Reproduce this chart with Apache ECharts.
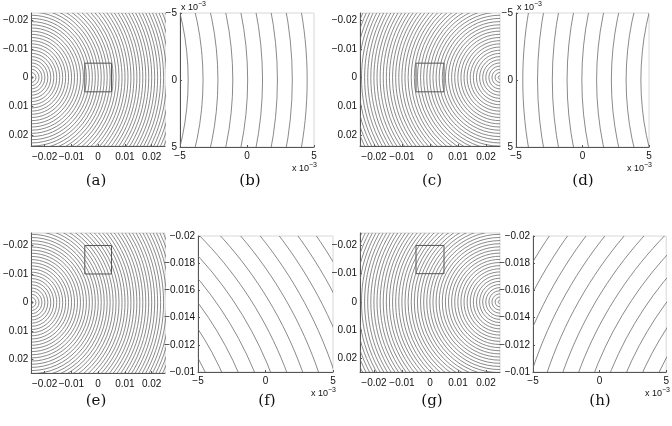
<!DOCTYPE html>
<html>
<head>
<meta charset="UTF-8">
<title>contours</title>
<script type="text/javascript" src="https://cdn.jsdelivr.net/npm/echarts@6/dist/echarts.min.js"></script>
<style>
    html, body { margin: 0; padding: 0; background: #fff; }
</style>
</head>
<body>
    <div id="main" style="width: 672px; height: 426px;"></div>
    <script type="text/javascript">
        // contour radii (same levels in every panel)
        var radii = [0.00063, 0.00174, 0.00285, 0.00396, 0.00507, 0.00618, 0.00729, 0.00840,
                     0.00951, 0.01062, 0.01173, 0.01284, 0.01395, 0.01506, 0.01617, 0.01728,
                     0.01839, 0.01950, 0.02061, 0.02172, 0.02283, 0.02394, 0.02505, 0.02616,
                     0.02727, 0.02838, 0.02949, 0.03060, 0.03171, 0.03282, 0.03393, 0.03504,
                     0.03615, 0.03726, 0.03837, 0.03948, 0.04059, 0.04170, 0.04281, 0.04392,
                     0.04503, 0.04614, 0.04725, 0.04836, 0.04947, 0.05058, 0.05169, 0.05280,
                     0.05391, 0.05502, 0.05613, 0.05724];
        // centre of the circles: left source (a,b,e,f), right source (c,d,g,h)
        var sourceLeft = [-0.025, 0];
        var sourceRight = [0.025, 0];
        // tick labels
        var bigTicks = [-0.02, -0.01, 0, 0.01, 0.02];
        var zoomTicks = [-0.005, 0, 0.005];
        var zoomYTicksLow = [-0.02, -0.018, -0.016, -0.014, -0.012, -0.01];
        // zoom windows [x0, x1, y0, y1]
        var windowCentre = [-0.005, 0.005, -0.005, 0.005];
        var windowUpper = [-0.005, 0.005, -0.02, -0.01];
        var captions = ['(a)', '(b)', '(c)', '(d)', '(e)', '(f)', '(g)', '(h)'];

        var panels = [
            { grid: {left: 25, top: 13, width: 140, height: 133}, x: [-0.025, 0.025], y: [-0.0225, 0.0239], src: sourceLeft, kind: 'big', box: windowCentre },
            { grid: {left: 180, top: 13, width: 134, height: 134}, x: [-0.005, 0.005], y: [-0.005, 0.005], src: sourceLeft, kind: 'zoom' },
            { grid: {left: 360, top: 13, width: 140, height: 133}, x: [-0.025, 0.025], y: [-0.0225, 0.0239], src: sourceRight, kind: 'big', box: windowCentre },
            { grid: {left: 516, top: 13, width: 133, height: 134}, x: [-0.005, 0.005], y: [-0.005, 0.005], src: sourceRight, kind: 'zoom' },
            { grid: {left: 25, top: 233, width: 140, height: 140}, x: [-0.025, 0.025], y: [-0.0244, 0.0248], src: sourceLeft, kind: 'big', box: windowUpper },
            { grid: {left: 198, top: 236, width: 135, height: 136}, x: [-0.005, 0.005], y: [-0.02, -0.01], src: sourceLeft, kind: 'low' },
            { grid: {left: 360, top: 233, width: 140, height: 139}, x: [-0.025, 0.025], y: [-0.0244, 0.0248], src: sourceRight, kind: 'big', box: windowUpper },
            { grid: {left: 533, top: 236, width: 134, height: 136}, x: [-0.005, 0.005], y: [-0.02, -0.01], src: sourceRight, kind: 'low' }
        ];
        var captionPos = [[96, 181], [250, 181], [432, 181], [583, 181], [96, 401], [267, 401], [432, 401], [600, 401]];

        function fmt(v) {
            var s = String(+v.toFixed(4));
            return s.replace('-', '\u2212');
        }
        function fmtMilli(v) {
            return fmt(Math.round(v * 1000));
        }

        var labelFont = { fontFamily: 'Liberation Sans', fontSize: 10, color: '#111' };

        function renderRing(params, api) {
            var c = api.coord([api.value(0), api.value(1)]);
            var s = api.size([api.value(2), api.value(2)]);
            return {
                type: 'ellipse',
                shape: { cx: c[0], cy: c[1], rx: s[0], ry: s[1] },
                style: { fill: 'none', stroke: '#6c6c6c', lineWidth: 0.8 }
            };
        }

        var grids = [], xAxes = [], yAxes = [], series = [], graphics = [];
        panels.forEach(function (p, i) {
            grids.push(Object.assign({ show: true, borderColor: '#d8d8d8', borderWidth: 1 }, p.grid));
            var xt = p.kind === 'big' ? bigTicks : zoomTicks;
            var yt = p.kind === 'big' ? bigTicks : (p.kind === 'zoom' ? zoomTicks : zoomYTicksLow);
            xAxes.push({
                type: 'value', gridIndex: i, min: p.x[0], max: p.x[1],
                axisLine: { show: true, onZero: false, lineStyle: { color: '#555', width: 1 } },
                axisTick: { show: true, inside: true, length: 2, customValues: xt, lineStyle: { color: '#555' } },
                axisLabel: Object.assign({ customValues: xt, margin: p.kind === 'big' ? 6 : 4, formatter: p.kind === 'big' ? fmt : fmtMilli }, labelFont),
                splitLine: { show: false }
            });
            yAxes.push({
                type: 'value', gridIndex: i, min: p.y[0], max: p.y[1], inverse: true,
                axisLine: { show: true, onZero: false, lineStyle: { color: '#555', width: 1 } },
                axisTick: { show: true, inside: true, length: 2, customValues: yt, lineStyle: { color: '#555' } },
                axisLabel: Object.assign({ customValues: yt, margin: 3, formatter: p.kind === 'zoom' ? fmtMilli : fmt }, labelFont),
                splitLine: { show: false }
            });
            series.push({
                type: 'custom', xAxisIndex: i, yAxisIndex: i, clip: true, silent: true,
                renderItem: renderRing,
                data: radii.map(function (r) { return [p.src[0], p.src[1], r]; })
            });
            if (p.box) {
                var b = p.box;
                series.push({
                    type: 'line', xAxisIndex: i, yAxisIndex: i, silent: true, symbol: 'none',
                    lineStyle: { color: '#555', width: 1 },
                    data: [[b[0], b[2]], [b[1], b[2]], [b[1], b[3]], [b[0], b[3]], [b[0], b[2]]]
                });
            }
            var g = p.grid;
            if (p.kind !== 'big') {
                graphics.push({
                    type: 'text', left: g.left + g.width - 22, top: g.top + g.height + 15,
                    style: { text: 'x 10{s|\u22123}', fontFamily: 'Liberation Sans', fontSize: 9, fill: '#111',
                             rich: { s: { fontSize: 7, verticalAlign: 'top', padding: [0, 0, 6, 0] } } }
                });
            }
            if (p.kind === 'zoom') {
                graphics.push({
                    type: 'text', left: g.left + 1, top: g.top - 12,
                    style: { text: 'x 10{s|\u22123}', fontFamily: 'Liberation Sans', fontSize: 9, fill: '#111',
                             rich: { s: { fontSize: 7, verticalAlign: 'top', padding: [0, 0, 6, 0] } } }
                });
            }
            graphics.push({
                type: 'text', x: captionPos[i][0], y: captionPos[i][1],
                style: { text: captions[i], fontFamily: 'DejaVu Serif', fontSize: 15, fill: '#111', align: 'center', verticalAlign: 'middle' }
            });
        });

        var myChart = echarts.init(document.getElementById('main'));
        myChart.setOption({
            animation: false,
            grid: grids,
            xAxis: xAxes,
            yAxis: yAxes,
            series: series,
            graphic: graphics
        });
    </script>
</body>
</html>
